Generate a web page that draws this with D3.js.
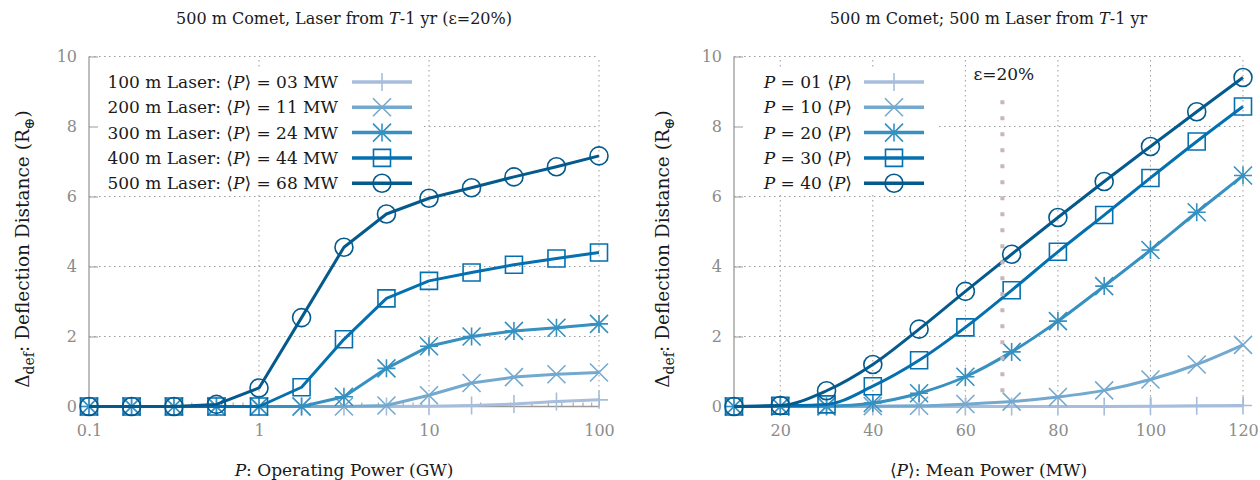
<!DOCTYPE html>
<html>
<head>
<meta charset="utf-8">
<script src="https://cdn.jsdelivr.net/npm/d3@7"></script>
<style>
  body { margin: 0; background: #fff; }
  svg text { font-family: "DejaVu Serif", serif; fill: #1a1a1a; }
  .tick-label { fill: #8c8c8c; }
</style>
</head>
<body>
<svg id="chart" width="1260" height="480"></svg>
<script>
// left panel: operating power P (GW), four samples per decade
var powerGW = [0.1, 0.178, 0.316, 0.562, 1, 1.78, 3.16, 5.62, 10, 17.8, 31.6, 56.2, 100];
var laserNames = ["100 m Laser", "200 m Laser", "300 m Laser", "400 m Laser", "500 m Laser"];
var laserMeanMW = ["03", "11", "24", "44", "68"];
var laser100 = [0, 0, 0, 0, 0, 0, 0, 0, 0.01, 0.03, 0.07, 0.14, 0.19];
var laser200 = [0, 0, 0, 0, 0, 0, 0, 0.03, 0.32, 0.67, 0.84, 0.92, 0.97];
var laser300 = [0, 0, 0, 0, 0, 0, 0.28, 1.09, 1.72, 2.0, 2.16, 2.25, 2.36];
var laser400 = [0, 0, 0, 0, 0, 0.55, 1.92, 3.09, 3.59, 3.83, 4.05, 4.23, 4.4];
var laser500 = [0, 0, 0, 0.06, 0.53, 2.54, 4.55, 5.5, 5.95, 6.25, 6.56, 6.85, 7.16];

// right panel: mean power <P> (MW)
var meanMW = [10, 20, 30, 40, 50, 60, 70, 80, 90, 100, 110, 120];
var dutyLabels = ["01", "10", "20", "30", "40"];
var duty01 = [0, 0, 0, 0, 0, 0, 0, 0, 0, 0.01, 0.02, 0.03];
var duty10 = [0, 0, 0, 0.01, 0.02, 0.07, 0.14, 0.27, 0.46, 0.77, 1.2, 1.76];
var duty20 = [0, 0, 0.01, 0.1, 0.38, 0.85, 1.56, 2.44, 3.44, 4.47, 5.55, 6.6];
var duty30 = [0, 0.02, 0.06, 0.58, 1.32, 2.26, 3.32, 4.42, 5.47, 6.53, 7.57, 8.57];
var duty40 = [0, 0.03, 0.45, 1.2, 2.21, 3.29, 4.35, 5.4, 6.43, 7.43, 8.42, 9.4];

var yTicks = [0, 2, 4, 6, 8, 10];
var leftXTicks = [0.1, 1, 10, 100];
var rightXTicks = [20, 40, 60, 80, 100, 120];
var epsilonMW = 68;
var epsilonSpan = [0.25, 8.75];

var colors = ["#a6bddb", "#74a9cf", "#3690c0", "#0570b0", "#045a8d"];
var symbols = ["plus", "cross", "star", "square", "circle"];

var svg = d3.select("#chart");
var gray = "#9a9a9a";

function translate(x, y) { return "translate(" + x + "," + y + ")"; }

function markerPath(type) {
  var s = 9;
  if (type == "plus") return "M" + (-s) + ",0H" + s + "M0," + (-s) + "V" + s;
  if (type == "cross") return "M" + (-s) + "," + (-s) + "L" + s + "," + s + "M" + (-s) + "," + s + "L" + s + "," + (-s);
  if (type == "star") return markerPath("plus") + markerPath("cross");
  if (type == "square") return "M-8.5,-8.5H8.5V8.5H-8.5Z";
  return "M9,0A9,9 0 1,1 -9,0A9,9 0 1,1 9,0Z";
}

// P italic inside a label: parts = [[text, italic], ...]
function richText(sel, parts) {
  parts.forEach(function(p) {
    var t = sel.append("tspan").text(p[0]);
    if (p[1]) t.style("font-style", "italic");
  });
  return sel;
}

function drawPanel(cfg) {
  var g = svg.append("g");
  var x = cfg.x, y = cfg.y;
  var x0 = x.range()[0], x1 = x.range()[1];
  var y0 = y.range()[0], y1 = y.range()[1];

  // dotted grid
  var grid = g.append("g").attr("stroke", gray).attr("stroke-width", 1)
    .attr("stroke-dasharray", "1.5,3.5").attr("fill", "none");
  grid.selectAll("line.gy").data(yTicks.filter(function(d) { return d > 0; })).enter()
    .append("line").attr("x1", x0).attr("x2", x1)
    .attr("y1", function(d) { return y(d); }).attr("y2", function(d) { return y(d); });
  grid.selectAll("line.gx").data(cfg.xTicks.filter(function(d) { return x(d) > x0 + 1; })).enter()
    .append("line").attr("y1", y0).attr("y2", y1)
    .attr("x1", function(d) { return x(d); }).attr("x2", function(d) { return x(d); });

  // legend background hides grid
  g.append("rect").attr("x", x0 + 1).attr("y", y(cfg.legendTop))
    .attr("width", cfg.legendWidth).attr("height", y(cfg.legendBottom) - y(cfg.legendTop))
    .attr("fill", "#fff");

  // border (left + bottom) and inward ticks
  g.append("path").attr("d", "M" + x0 + "," + y1 + "V" + y0 + "H" + x1)
    .attr("fill", "none").attr("stroke", gray).attr("stroke-width", 1.3);

  var ay = g.append("g").attr("transform", translate(x0, 0))
    .call(d3.axisRight(y).tickValues(yTicks).tickSize(9).tickFormat(""));
  ay.select(".domain").remove();
  ay.selectAll("line").attr("stroke", gray);

  var ax = g.append("g").attr("transform", translate(0, y0))
    .call(d3.axisTop(x).tickValues(cfg.xTicks).tickSize(9).tickFormat(""));
  ax.select(".domain").remove();
  ax.selectAll("line").attr("stroke", gray);

  if (cfg.minorTicks) {
    var am = g.append("g").attr("transform", translate(0, y0))
      .call(d3.axisTop(x).tickValues(cfg.minorTicks).tickSize(4).tickFormat(""));
    am.select(".domain").remove();
    am.selectAll("line").attr("stroke", gray);
  }

  // tick labels
  var ly = g.append("g").attr("transform", translate(x0, 0))
    .call(d3.axisLeft(y).tickValues(yTicks).tickSize(0).tickPadding(12));
  ly.select(".domain").remove();
  ly.selectAll("text").attr("class", "tick-label").style("font-size", "16px")
    .style("font-family", "DejaVu Serif");

  var lx = g.append("g").attr("transform", translate(0, y0))
    .call(d3.axisBottom(x).tickValues(cfg.xTicks).tickSize(0).tickPadding(18).tickFormat(cfg.fmt));
  lx.select(".domain").remove();
  lx.selectAll("text").attr("class", "tick-label").style("font-size", "16px")
    .style("font-family", "DejaVu Serif");

  // series
  cfg.series.forEach(function(vals, i) {
    var pts = vals.map(function(v, k) { return [cfg.xs[k], v]; });
    var line = d3.line().x(function(d) { return x(d[0]); }).y(function(d) { return y(d[1]); })
      .curve(cfg.curve);
    g.append("path").datum(pts).attr("d", line)
      .attr("fill", "none").attr("stroke", colors[i]).attr("stroke-width", 3)
      .attr("stroke-linejoin", "round");
    g.append("g").selectAll("path").data(pts).enter().append("path")
      .attr("transform", function(d) { return translate(x(d[0]), y(d[1])); })
      .attr("d", markerPath(symbols[i]))
      .attr("fill", "none").attr("stroke", colors[i]).attr("stroke-width", 1.6);
  });

  // legend
  cfg.legend.forEach(function(parts, i) {
    var ry = cfg.legendRow0 + i * 25.3;
    var t = g.append("text").attr("x", cfg.legendTextX).attr("y", ry).attr("dy", "0.35em")
      .attr("text-anchor", "end").style("font-size", "17px");
    richText(t, parts);
    g.append("line").attr("x1", cfg.legendLineX).attr("x2", cfg.legendLineX + 60)
      .attr("y1", ry).attr("y2", ry).attr("stroke", colors[i]).attr("stroke-width", 3.5);
    g.append("path").attr("transform", translate(cfg.legendLineX + 30, ry))
      .attr("d", markerPath(symbols[i]))
      .attr("fill", "none").attr("stroke", colors[i]).attr("stroke-width", 1.6);
  });

  // title and axis labels
  var cx = (x0 + x1) / 2;
  richText(g.append("text").attr("x", cx).attr("y", 24).attr("text-anchor", "middle")
    .style("font-size", "16px"), cfg.title);
  richText(g.append("text").attr("x", cx).attr("y", 476).attr("text-anchor", "middle")
    .style("font-size", "17px"), cfg.xLabel);

  var yl = g.append("text").attr("transform", translate(cfg.yLabelX, 249) + " rotate(-90)")
    .attr("text-anchor", "middle").style("font-size", "18.5px");
  yl.append("tspan").text("Δ");
  yl.append("tspan").attr("dy", 5).style("font-size", "14px").text("def");
  yl.append("tspan").attr("dy", -5).text(": Deflection Distance (R");
  yl.append("tspan").attr("dy", 5).style("font-size", "14px").text("⊕");
  yl.append("tspan").attr("dy", -5).text(")");

  return g;
}

var yLeft = d3.scaleLinear().domain([0, 10]).range([406.5, 56.5]);
var xLeft = d3.scaleLog().domain([0.1, 100]).range([89, 599]);
var minorLog = [];
[0.1, 1, 10].forEach(function(d) { for (var k = 2; k < 10; k++) minorLog.push(d * k); });

drawPanel({
  x: xLeft, y: yLeft, xs: powerGW, xTicks: leftXTicks, minorTicks: minorLog,
  fmt: function(d) { return d < 1 ? "0.1" : String(d); },
  series: [laser100, laser200, laser300, laser400, laser500],
  curve: d3.curveLinear,
  legend: laserNames.map(function(n, i) {
    return [[n + ": ⟨", false], ["P", true], ["⟩ = " + laserMeanMW[i] + " MW", false]];
  }),
  legendTop: 9.65, legendBottom: 6.05, legendWidth: 334,
  legendRow0: 82, legendTextX: 338, legendLineX: 352,
  title: [["500 m Comet, Laser from ", false], ["T", true], ["-1 yr (ε=20%)", false]],
  xLabel: [["P", true], [": Operating Power (GW)", false]],
  yLabelX: 29
});

var yRight = d3.scaleLinear().domain([0, 10]).range([406.5, 56.5]);
var xRight = d3.scaleLinear().domain([10, 120]).range([734, 1243]);

var right = drawPanel({
  x: xRight, y: yRight, xs: meanMW, xTicks: rightXTicks, minorTicks: null,
  fmt: d3.format("d"),
  series: [duty01, duty10, duty20, duty30, duty40],
  curve: d3.curveMonotoneX,
  legend: dutyLabels.map(function(n) {
    return [["P", true], [" = " + n + " ⟨", false], ["P", true], ["⟩", false]];
  }),
  legendTop: 9.65, legendBottom: 6.05, legendWidth: 201,
  legendRow0: 82, legendTextX: 852, legendLineX: 864,
  title: [["500 m Comet; 500 m Laser from ", false], ["T", true], ["-1 yr", false]],
  xLabel: [["⟨", false], ["P", true], ["⟩: Mean Power (MW)", false]],
  yLabelX: 669
});

// epsilon = 20% marker line at the 500 m laser mean power
right.append("line")
  .attr("x1", xRight(epsilonMW)).attr("x2", xRight(epsilonMW))
  .attr("y1", yRight(epsilonSpan[1])).attr("y2", yRight(epsilonSpan[0]))
  .attr("stroke", "#c8b5b5").attr("stroke-width", 4).attr("stroke-dasharray", "4,12");
right.append("text").attr("x", xRight(epsilonMW) - 29).attr("y", 80)
  .style("font-size", "17px").text("ε=20%");
</script>
</body>
</html>
